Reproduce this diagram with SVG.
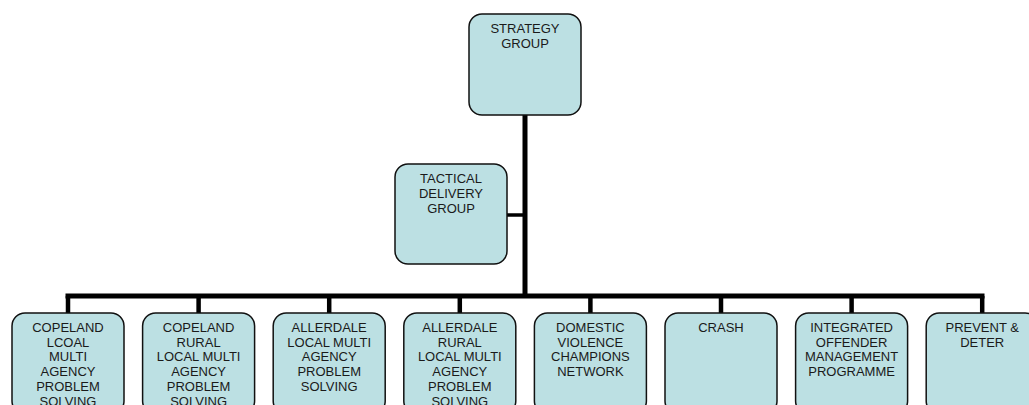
<svg xmlns="http://www.w3.org/2000/svg" width="1029" height="405" viewBox="0 0 1029 405">
<style>
.box{fill:#bce0e3;stroke:#111;stroke-width:1.5}
.t{font-family:"Liberation Sans",Arial,sans-serif;font-size:13px;fill:#1a1a1a;text-anchor:middle}
.c{stroke:#000;fill:none}
</style>
<rect width="1029" height="405" fill="#fff"/>
<g id="connectors">
<line class="c" x1="525" y1="115" x2="525" y2="296" stroke-width="5"/>
<line class="c" x1="507" y1="215" x2="525" y2="215" stroke-width="3.5"/>
<line class="c" x1="65.5" y1="296" x2="984.5" y2="296" stroke-width="5"/>
<line class="c" x1="68" y1="296" x2="68" y2="313" stroke-width="4.5"/>
<line class="c" x1="198.6" y1="296" x2="198.6" y2="313" stroke-width="4.5"/>
<line class="c" x1="329.2" y1="296" x2="329.2" y2="313" stroke-width="4.5"/>
<line class="c" x1="459.8" y1="296" x2="459.8" y2="313" stroke-width="4.5"/>
<line class="c" x1="590.4" y1="296" x2="590.4" y2="313" stroke-width="4.5"/>
<line class="c" x1="721" y1="296" x2="721" y2="313" stroke-width="4.5"/>
<line class="c" x1="851.6" y1="296" x2="851.6" y2="313" stroke-width="4.5"/>
<line class="c" x1="982.2" y1="296" x2="982.2" y2="313" stroke-width="4.5"/>
</g>
<g id="strategy">
<rect class="box" x="469" y="14" width="112" height="101" rx="13"/>
<text class="t" x="525" y="33.3">STRATEGY</text>
<text class="t" x="525" y="48">GROUP</text>
</g>
<g id="tactical">
<rect class="box" x="395" y="164" width="112" height="100" rx="13"/>
<text class="t" x="451" y="183.3">TACTICAL</text>
<text class="t" x="451" y="198">DELIVERY</text>
<text class="t" x="451" y="212.7">GROUP</text>
</g>
<g id="copeland-local">
<rect class="box" x="12" y="313" width="112" height="101" rx="13"/>
<text class="t" x="68" y="332">COPELAND</text>
<text class="t" x="68" y="346.7">LCOAL</text>
<text class="t" x="68" y="361.4">MULTI</text>
<text class="t" x="68" y="376.1">AGENCY</text>
<text class="t" x="68" y="390.8">PROBLEM</text>
<text class="t" x="68" y="405.5">SOLVING</text>
</g>
<g id="copeland-rural">
<rect class="box" x="142.6" y="313" width="112" height="101" rx="13"/>
<text class="t" x="198.6" y="332">COPELAND</text>
<text class="t" x="198.6" y="346.7">RURAL</text>
<text class="t" x="198.6" y="361.4">LOCAL MULTI</text>
<text class="t" x="198.6" y="376.1">AGENCY</text>
<text class="t" x="198.6" y="390.8">PROBLEM</text>
<text class="t" x="198.6" y="405.5">SOLVING</text>
</g>
<g id="allerdale-local">
<rect class="box" x="273.2" y="313" width="112" height="101" rx="13"/>
<text class="t" x="329.2" y="332">ALLERDALE</text>
<text class="t" x="329.2" y="346.7">LOCAL MULTI</text>
<text class="t" x="329.2" y="361.4">AGENCY</text>
<text class="t" x="329.2" y="376.1">PROBLEM</text>
<text class="t" x="329.2" y="390.8">SOLVING</text>
</g>
<g id="allerdale-rural">
<rect class="box" x="403.8" y="313" width="112" height="101" rx="13"/>
<text class="t" x="459.8" y="332">ALLERDALE</text>
<text class="t" x="459.8" y="346.7">RURAL</text>
<text class="t" x="459.8" y="361.4">LOCAL MULTI</text>
<text class="t" x="459.8" y="376.1">AGENCY</text>
<text class="t" x="459.8" y="390.8">PROBLEM</text>
<text class="t" x="459.8" y="405.5">SOLVING</text>
</g>
<g id="domestic-violence">
<rect class="box" x="534.4" y="313" width="112" height="101" rx="13"/>
<text class="t" x="590.4" y="332">DOMESTIC</text>
<text class="t" x="590.4" y="346.7">VIOLENCE</text>
<text class="t" x="590.4" y="361.4">CHAMPIONS</text>
<text class="t" x="590.4" y="376.1">NETWORK</text>
</g>
<g id="crash">
<rect class="box" x="665" y="313" width="112" height="101" rx="13"/>
<text class="t" x="721" y="332">CRASH</text>
</g>
<g id="iom">
<rect class="box" x="795.6" y="313" width="112" height="101" rx="13"/>
<text class="t" x="851.6" y="332">INTEGRATED</text>
<text class="t" x="851.6" y="346.7">OFFENDER</text>
<text class="t" x="851.6" y="361.4">MANAGEMENT</text>
<text class="t" x="851.6" y="376.1">PROGRAMME</text>
</g>
<g id="prevent-deter">
<rect class="box" x="926.2" y="313" width="112" height="101" rx="13"/>
<text class="t" x="982.2" y="332">PREVENT &amp;</text>
<text class="t" x="982.2" y="346.7">DETER</text>
</g>
</svg>
